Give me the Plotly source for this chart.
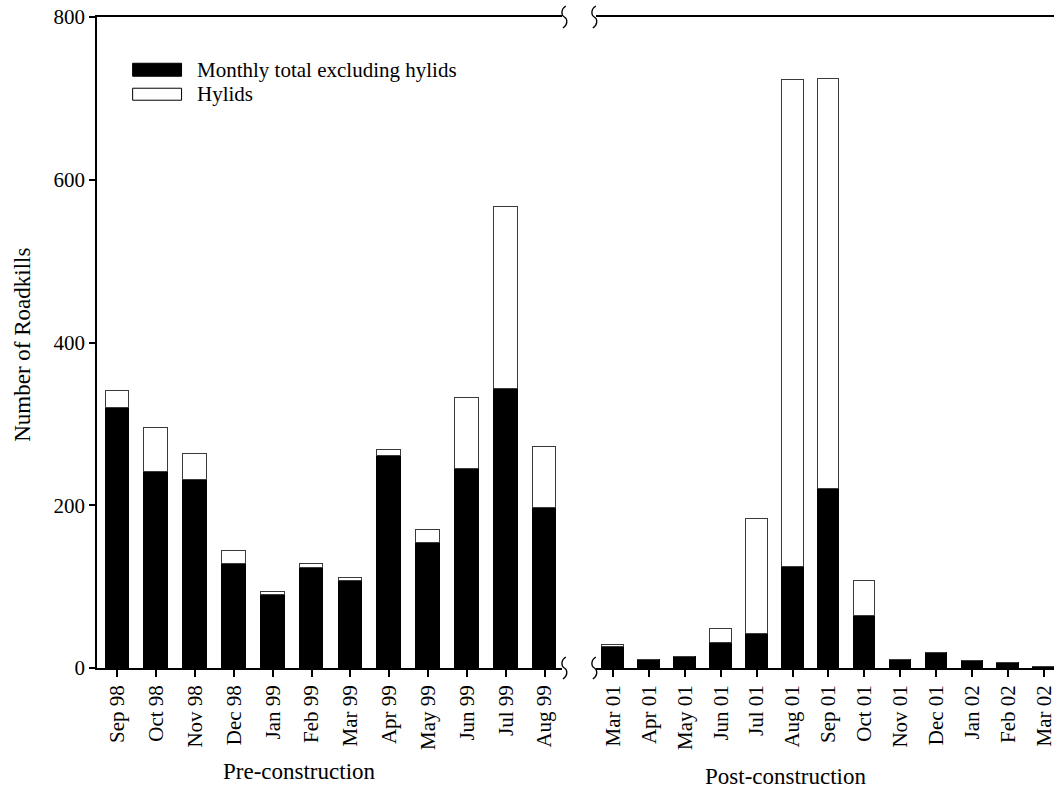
import plotly.graph_objects as go

# ---------------- data ----------------
pre_months = ["Sep 98", "Oct 98", "Nov 98", "Dec 98", "Jan 99", "Feb 99",
              "Mar 99", "Apr 99", "May 99", "Jun 99", "Jul 99", "Aug 99"]
pre_other = [320, 241, 231, 128, 90, 123, 107, 261, 154, 245, 343, 197]
pre_hylids = [21, 54, 32, 16, 4, 5, 3, 7, 15, 87, 223, 75]

post_months = ["Mar 01", "Apr 01", "May 01", "Jun 01", "Jul 01", "Aug 01", "Sep 01",
               "Oct 01", "Nov 01", "Dec 01", "Jan 02", "Feb 02", "Mar 02"]
post_other = [26, 10, 14, 31, 42, 124, 220, 64, 10, 19, 8, 6, 1]
post_hylids = [2, 0, 0, 17, 141, 599, 504, 43, 0, 0, 0, 0, 0]

y_ticks = [0, 200, 400, 600, 800]
legend_labels = ["Monthly total excluding hylids", "Hylids"]

# ---------------- layout constants ----------------
W, H = 1056, 790
PLOT_L, PLOT_T, PLOT_B = 97.3, 16.7, 668.3  # window pixels
ML, MT, MB, MR = PLOT_L, PLOT_T, H - PLOT_B, 0
PW = W - ML - MR
PH = H - MT - MB
FONT = "Liberation Serif, Times New Roman, serif"


def px(x):
    """window x pixel -> paper fraction"""
    return (x - ML) / PW


def py(y):
    """window y pixel (from top) -> paper fraction"""
    return (PLOT_B - y) / PH


fig = go.Figure()

pre_idx = list(range(len(pre_months)))
post_idx = list(range(len(post_months)))

black = dict(color="black", line=dict(color="black", width=1))
white = dict(color="white", line=dict(color="#3a3a3a", width=1.3))

fig.add_bar(x=pre_idx, y=pre_other, width=0.61, marker=black,
            xaxis="x", yaxis="y", name=legend_labels[0], showlegend=False)
fig.add_bar(x=pre_idx, y=pre_hylids, width=0.61, marker=white,
            xaxis="x", yaxis="y", name=legend_labels[1], showlegend=False)
fig.add_bar(x=post_idx, y=post_other, width=0.60, marker=black,
            xaxis="x2", yaxis="y", name=legend_labels[0], showlegend=False)
fig.add_bar(x=post_idx, y=post_hylids, width=0.60, marker=white,
            xaxis="x2", yaxis="y", name=legend_labels[1], showlegend=False)

axis_common = dict(
    showline=True, linecolor="black", linewidth=1.5, mirror=True,
    ticks="outside", ticklen=7, tickwidth=1.5, tickcolor="black",
    tickangle=-90, showgrid=False, zeroline=False, ticklabeloverflow="allow",
    tickfont=dict(family=FONT, size=21, color="black"),
)

left_end = 563
right_start = 597
fig.update_layout(
    width=W, height=H,
    margin=dict(l=ML, r=MR, t=MT, b=MB, pad=0),
    paper_bgcolor="white", plot_bgcolor="white",
    barmode="stack", bargap=0,
    showlegend=False,
    font=dict(family=FONT, color="black"),
    xaxis=dict(domain=[0, px(left_end)], range=[-0.524, 11.445],
               tickvals=pre_idx, ticktext=pre_months, anchor="y", **axis_common),
    xaxis2=dict(domain=[px(right_start), 1], range=[-0.48, 12.28],
                tickvals=post_idx, ticktext=post_months, anchor="y", **axis_common),
    yaxis=dict(range=[0, 800], tickvals=y_ticks, showline=True, linecolor="black",
               linewidth=1.5, ticks="outside", ticklen=6, tickwidth=1.5,
               tickcolor="black", showgrid=False, zeroline=False,
               ticklabeloverflow="allow",
               tickfont=dict(family=FONT, size=21, color="black")),
)


# axis-break squiggles
def squiggle(cx, cy):
    pts = [(cx + 1.5, cy - 11), (cx - 3.5, cy - 8), (cx - 3.5, cy - 2), (cx, cy),
           (cx + 3.5, cy + 2), (cx + 3.5, cy + 8), (cx - 1.5, cy + 11)]
    p = [(px(a), py(b)) for a, b in pts]
    return ("M {:.5f},{:.5f} C {:.5f},{:.5f} {:.5f},{:.5f} {:.5f},{:.5f} "
            "C {:.5f},{:.5f} {:.5f},{:.5f} {:.5f},{:.5f}").format(
        *[v for q in p for v in q])


shapes = []
for cx in (565.5, 595.5):
    for cy in (PLOT_T, PLOT_B):
        shapes.append(dict(type="path", path=squiggle(cx, cy), xref="paper",
                           yref="paper", line=dict(color="black", width=1.3)))

# legend swatches
shapes.append(dict(type="rect", xref="paper", yref="paper",
                   x0=px(133), x1=px(182), y0=py(63), y1=py(76),
                   fillcolor="black", line=dict(color="black", width=1)))
shapes.append(dict(type="rect", xref="paper", yref="paper",
                   x0=px(133), x1=px(182), y0=py(88), y1=py(100),
                   fillcolor="white", line=dict(color="black", width=1)))
fig.update_layout(shapes=shapes)

annotations = [
    dict(text=legend_labels[0], x=px(195), y=py(69.5), xanchor="left", yanchor="middle"),
    dict(text=legend_labels[1], x=px(195), y=py(94), xanchor="left", yanchor="middle"),
    dict(text="Pre-construction", x=px(300), y=py(772), xanchor="center", yanchor="middle",
         font=dict(family=FONT, size=23, color="black")),
    dict(text="Post-construction", x=px(787), y=py(777), xanchor="center", yanchor="middle",
         font=dict(family=FONT, size=23, color="black")),
    dict(text="Number of Roadkills", x=px(23), y=py(345), xanchor="center", yanchor="middle",
         textangle=-90, font=dict(family=FONT, size=23, color="black")),
]
for a in annotations:
    a.setdefault("font", dict(family=FONT, size=21, color="black"))
    a.update(xref="paper", yref="paper", showarrow=False)
fig.update_layout(annotations=annotations)

# remove the default 8px page margin so the 1056x790 figure fills the window exactly
fig.write_html("out.html",
               config={"displayModeBar": False},
               post_script="document.body.style.margin='0';document.body.style.overflow='hidden';")
